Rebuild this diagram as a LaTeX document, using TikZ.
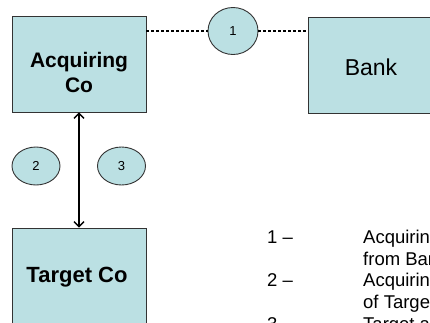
\documentclass[tikz,border=0pt]{standalone}
\usepackage{fontspec}
\setmainfont{Liberation Sans}
\usetikzlibrary{arrows.meta,shapes.geometric}
\definecolor{boxfill}{HTML}{BBE0E3}
\definecolor{boxline}{HTML}{333333}
\begin{document}
\begin{tikzpicture}[x=1pt,y=-1pt,
  entity/.style={draw=boxline, fill=boxfill, line width=0.9pt, rectangle, inner sep=0pt},
  marker/.style={draw=boxline, fill=boxfill, line width=0.9pt, ellipse, inner sep=0pt, font=\fontsize{13}{15}\selectfont},
  boldlabel/.style={font=\fontsize{21}{25}\selectfont\bfseries, align=center, inner sep=0pt},
  listtext/.style={font=\fontsize{18.5}{21.7}\selectfont, anchor=base west, inner sep=0pt},
  dotline/.style={line width=2.8pt, dash pattern=on 2.8pt off 2.2pt, black},
  link/.style={line width=1.4pt, black, {Straight Barb[length=5pt,width=10pt]}-{Straight Barb[length=5pt,width=10pt]}}
]
\useasboundingbox (0,0) rectangle (430,322);
\clip (0,0) rectangle (430,322);

\node[entity, minimum width=134pt, minimum height=96pt] (acq) at (79,64) {};
\node[boldlabel] (acqtext) at (79,72) {Acquiring\\Co};

\node[entity, minimum width=126pt, minimum height=96pt] (bank) at (371,65) {};
\node[font=\fontsize{23}{27}\selectfont, inner sep=0pt] (banktext) at (371,67) {Bank};

\node[entity, minimum width=134pt, minimum height=98pt] (tgt) at (79,277) {};
\node[boldlabel, font=\fontsize{22}{26}\selectfont\bfseries] (tgttext) at (77,277) {Target Co};

\node[marker, minimum width=50pt, minimum height=47pt] (c1) at (233,31) {1};
\node[marker, minimum width=48pt, minimum height=38pt] (c2) at (36,166) {2};
\node[marker, minimum width=48pt, minimum height=38pt] (c3) at (121.5,166) {3};

\draw[dotline] (c1.west -| acq.east) -- (c1.west);
\draw[dotline] (c1.east) -- (c1.east -| bank.west);

\draw[link] (acq.south) -- (tgt.north);

\node[listtext] (n1) at (267,243.3) {1 –};
\node[listtext] (t1a) at (363,243.3) {Acquiring Co borrows};
\node[listtext] (t1b) at (363,265) {from Bank};
\node[listtext] (n2) at (267,286.7) {2 –};
\node[listtext] (t2a) at (363,286.7) {Acquiring Co buys shares};
\node[listtext] (t2b) at (363,308.3) {of Target Co};
\node[listtext] (n3) at (267,330) {3 –};
\node[listtext] (t3a) at (363,330) {Target and Acquiring Co merge};
\end{tikzpicture}
\end{document}
